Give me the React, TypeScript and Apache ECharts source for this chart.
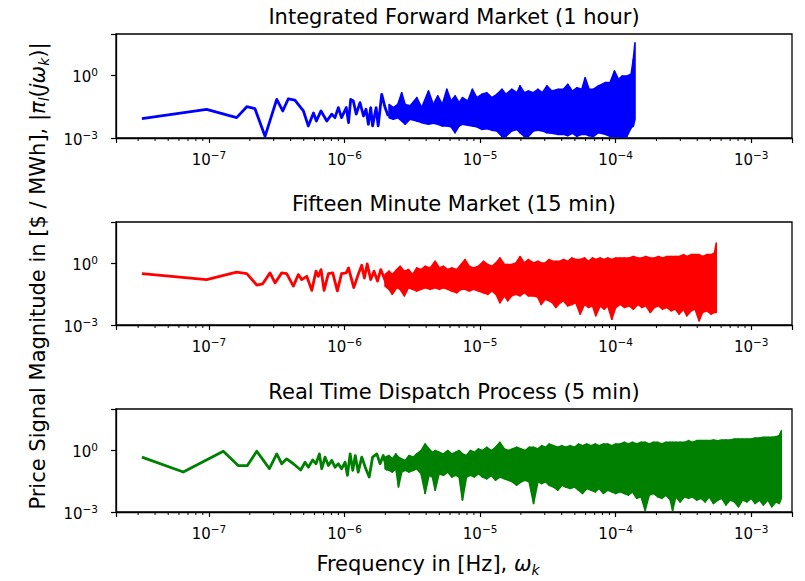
import React, { useEffect, useRef } from "react";
import * as echarts from "echarts";

const X_MIN = 2.06e-8;
const X_MAX = 2.0e-3;
const Y_MIN = 1e-3;
const Y_MAX = 1e2;

const titles = [
  "Integrated Forward Market (1 hour)",
  "Fifteen Minute Market (15 min)",
  "Real Time Dispatch Process (5 min)",
];
const seriesColors = ["#0000ff", "#ff0000", "#008000"];
const xAxisTitle = "Frequency in [Hz], {it|ω}{sub|k}";
const yAxisTitle = "Price Signal Magnitude in [$ / MWh], |{it|π}{sub|l}({it|jω}{sub|k})|";

// [frequency Hz, magnitude] -- low-frequency part of each spectrum
const blueLine: number[][] = [
  [3.2e-8, 0.0085], [9.6e-8, 0.024], [1.6e-7, 0.0095], [1.9e-7, 0.032], [2.18e-7, 0.026],
  [2.59e-7, 0.0012], [3.16e-7, 0.072], [3.5e-7, 0.02], [3.85e-7, 0.077], [4.3e-7, 0.067],
  [4.97e-7, 0.02], [5.4e-7, 0.0038], [5.9e-7, 0.016], [6.2e-7, 0.0066], [6.7e-7, 0.02],
  [7.4e-7, 0.0066], [8.05e-7, 0.014], [8.5e-7, 0.0095], [9.0e-7, 0.029], [9.5e-7, 0.0095],
  [1.03e-6, 0.029], [1.07e-6, 0.0055], [1.11e-6, 0.072], [1.16e-6, 0.06], [1.22e-6, 0.014],
  [1.3e-6, 0.05], [1.38e-6, 0.0114], [1.44e-6, 0.024], [1.5e-6, 0.0046], [1.56e-6, 0.029],
  [1.61e-6, 0.0038], [1.71e-6, 0.029], [1.77e-6, 0.0038], [1.88e-6, 0.126], [1.99e-6, 0.029],
  [2.1e-6, 0.0114],
];
// [frequency Hz, upper magnitude, lower magnitude] -- dense high-frequency part
const blueBand: number[][] = [
  [2.13e-6, 0.041, 0.0095], [2.29e-6, 0.029, 0.008], [2.47e-6, 0.041, 0.0095], [2.64e-6, 0.15, 0.0066],
  [2.8e-6, 0.041, 0.0046], [3.04e-6, 0.035, 0.008], [3.41e-6, 0.087, 0.0066], [3.71e-6, 0.029, 0.0055],
  [4.16e-6, 0.18, 0.0046], [4.52e-6, 0.041, 0.0051], [4.87e-6, 0.105, 0.0046], [5.27e-6, 0.041, 0.0038],
  [5.68e-6, 0.22, 0.0038], [6.11e-6, 0.06, 0.0035], [6.54e-6, 0.105, 0.0018], [7.0e-6, 0.05, 0.0038],
  [7.41e-6, 0.087, 0.0046], [8.11e-6, 0.06, 0.0041], [8.77e-6, 0.22, 0.0038], [9.45e-6, 0.087, 0.0035],
  [1.03e-5, 0.126, 0.0026], [1.12e-5, 0.15, 0.0028], [1.22e-5, 0.087, 0.0024], [1.33e-5, 0.126, 0.0022],
  [1.45e-5, 0.22, 0.0012], [1.55e-5, 0.126, 0.0012], [1.71e-5, 0.22, 0.0022], [1.87e-5, 0.15, 0.0026],
  [1.97e-5, 0.32, 0.0018], [2.12e-5, 0.15, 0.0012], [2.27e-5, 0.18, 0.0012], [2.47e-5, 0.15, 0.0022],
  [2.67e-5, 0.22, 0.0024], [2.88e-5, 0.15, 0.0022], [3.11e-5, 0.32, 0.0018], [3.38e-5, 0.18, 0.0017],
  [3.78e-5, 0.22, 0.0015], [4.12e-5, 0.22, 0.0015], [4.44e-5, 0.38, 0.0013], [4.8e-5, 0.18, 0.0017],
  [5.17e-5, 0.26, 0.0012], [5.63e-5, 0.22, 0.0015], [5.96e-5, 0.79, 0.0015], [6.37e-5, 0.22, 0.0013],
  [6.86e-5, 0.22, 0.0012], [7.46e-5, 0.32, 0.0018], [8.37e-5, 0.46, 0.0015], [9.1e-5, 0.46, 0.0012],
  [9.8e-5, 1.66, 0.0012], [1.05e-4, 0.66, 0.0012], [1.12e-4, 0.96, 0.0011], [1.21e-4, 0.96, 0.0012],
  [1.3e-4, 1.16, 0.0031], [1.35e-4, 6.0, 0.0038], [1.389e-4, 38, 0.008],
];

const redLine: number[][] = [
  [3.2e-8, 0.31], [9.6e-8, 0.16], [1.6e-7, 0.37], [1.9e-7, 0.31], [2.25e-7, 0.087],
  [2.49e-7, 0.1], [2.82e-7, 0.34], [3.07e-7, 0.11], [3.44e-7, 0.34], [3.74e-7, 0.31],
  [4.19e-7, 0.077], [4.56e-7, 0.28], [4.83e-7, 0.16], [5.26e-7, 0.23], [5.73e-7, 0.048],
  [6.16e-7, 0.41], [6.41e-7, 0.23], [6.71e-7, 0.49], [7.06e-7, 0.048], [7.6e-7, 0.31],
  [8.18e-7, 0.34], [8.85e-7, 0.045], [9.5e-7, 0.31], [1.03e-6, 0.34], [1.07e-6, 0.59],
  [1.12e-6, 0.19], [1.17e-6, 0.065], [1.26e-6, 0.28], [1.34e-6, 0.79], [1.4e-6, 0.19],
  [1.47e-6, 0.92], [1.56e-6, 0.16], [1.65e-6, 0.41], [1.75e-6, 0.135], [1.85e-6, 0.49],
  [1.96e-6, 0.19], [2.07e-6, 0.077],
];
const redBand: number[][] = [
  [1.99e-6, 0.28, 0.077], [2.13e-6, 0.41, 0.054], [2.25e-6, 0.28, 0.031], [2.43e-6, 0.49, 0.065],
  [2.57e-6, 0.71, 0.054], [2.76e-6, 0.41, 0.026], [2.96e-6, 0.49, 0.065], [3.17e-6, 0.28, 0.054],
  [3.41e-6, 0.59, 0.045], [3.67e-6, 0.49, 0.054], [3.93e-6, 0.71, 0.065], [4.28e-6, 0.59, 0.054],
  [4.66e-6, 1.24, 0.065], [5.01e-6, 0.59, 0.054], [5.36e-6, 0.71, 0.065], [5.77e-6, 0.49, 0.054],
  [6.18e-6, 0.59, 0.045], [6.73e-6, 0.49, 0.037], [7.24e-6, 0.86, 0.054], [7.75e-6, 1.5, 0.054],
  [8.3e-6, 0.71, 0.045], [8.93e-6, 0.59, 0.054], [9.72e-6, 0.71, 0.045], [1.06e-5, 1.24, 0.037],
  [1.14e-5, 0.86, 0.031], [1.22e-5, 0.71, 0.045], [1.31e-5, 1.03, 0.031], [1.4e-5, 1.8, 0.012],
  [1.51e-5, 0.86, 0.026], [1.6e-5, 0.86, 0.015], [1.71e-5, 0.86, 0.026], [1.84e-5, 1.03, 0.031],
  [1.97e-5, 2.1, 0.026], [2.12e-5, 1.03, 0.037], [2.27e-5, 1.5, 0.026], [2.48e-5, 1.03, 0.026],
  [2.67e-5, 1.24, 0.022], [2.82e-5, 1.03, 0.01], [3.02e-5, 1.03, 0.018], [3.23e-5, 1.5, 0.015],
  [3.42e-5, 1.24, 0.012], [3.62e-5, 1.24, 0.0071], [3.89e-5, 1.24, 0.012], [4.12e-5, 1.5, 0.015],
  [4.44e-5, 1.24, 0.0085], [4.75e-5, 1.8, 0.01], [5.08e-5, 1.5, 0.012], [5.47e-5, 1.5, 0.0034],
  [5.89e-5, 1.8, 0.01], [6.3e-5, 1.24, 0.0071], [6.75e-5, 1.8, 0.0085], [7.14e-5, 1.5, 0.0028],
  [7.68e-5, 1.8, 0.0085], [8.23e-5, 1.5, 0.0059], [8.75e-5, 1.8, 0.0085], [9.37e-5, 1.5, 0.0019],
  [1.0e-4, 1.8, 0.0071], [1.08e-4, 1.8, 0.01], [1.16e-4, 1.8, 0.0071], [1.26e-4, 1.8, 0.0085],
  [1.35e-4, 2.1, 0.0059], [1.46e-4, 1.8, 0.01], [1.56e-4, 1.8, 0.0071], [1.67e-4, 2.1, 0.0085],
  [1.8e-4, 1.8, 0.0041], [1.93e-4, 1.8, 0.0071], [2.07e-4, 2.1, 0.0085], [2.22e-4, 1.8, 0.0059],
  [2.39e-4, 2.1, 0.0071], [2.57e-4, 2.1, 0.0049], [2.75e-4, 2.1, 0.0059], [2.94e-4, 2.1, 0.0034],
  [3.17e-4, 2.6, 0.0059], [3.35e-4, 2.1, 0.0028], [3.61e-4, 2.6, 0.0049], [3.86e-4, 2.6, 0.0059],
  [4.13e-4, 2.6, 0.0016], [4.37e-4, 2.1, 0.0041], [4.71e-4, 2.6, 0.0049], [5.07e-4, 2.6, 0.0034],
  [5.36e-4, 3.1, 0.0041], [5.52e-4, 9.5, 0.0041],
];

const greenLine: number[][] = [
  [3.2e-8, 0.46], [6.46e-8, 0.087], [1.275e-7, 0.89], [1.64e-7, 0.18], [1.92e-7, 0.18],
  [2.25e-7, 0.89], [2.52e-7, 0.32], [2.79e-7, 0.126], [3.16e-7, 0.66], [3.44e-7, 0.22],
  [3.74e-7, 0.38], [4.19e-7, 0.22], [4.75e-7, 0.11], [5.11e-7, 0.26], [5.41e-7, 0.15],
  [5.82e-7, 0.34], [6.16e-7, 0.22], [6.52e-7, 0.66], [6.79e-7, 0.126], [7.18e-7, 0.46],
  [7.6e-7, 0.18], [8.05e-7, 0.32], [8.5e-7, 0.15], [9.0e-7, 0.22], [9.5e-7, 0.126],
  [1.01e-6, 0.26], [1.05e-6, 0.06], [1.1e-6, 0.66], [1.15e-6, 0.105], [1.2e-6, 0.55],
  [1.26e-6, 0.087], [1.34e-6, 0.46], [1.42e-6, 0.15], [1.52e-6, 0.05], [1.61e-6, 0.46],
  [1.73e-6, 0.66], [1.83e-6, 0.22], [1.93e-6, 0.55], [2.07e-6, 0.105],
];
const greenBand: number[][] = [
  [1.99e-6, 0.46, 0.126], [2.13e-6, 0.55, 0.105], [2.25e-6, 0.38, 0.087], [2.39e-6, 0.66, 0.126],
  [2.5e-6, 0.46, 0.0165], [2.64e-6, 0.38, 0.087], [2.8e-6, 0.32, 0.105], [2.99e-6, 0.55, 0.087],
  [3.22e-6, 0.46, 0.105], [3.41e-6, 0.66, 0.126], [3.67e-6, 0.96, 0.072], [3.93e-6, 2.0, 0.008],
  [4.2e-6, 1.15, 0.06], [4.45e-6, 0.79, 0.05], [4.66e-6, 0.96, 0.0114], [4.98e-6, 0.79, 0.072],
  [5.36e-6, 0.66, 0.06], [5.77e-6, 0.96, 0.087], [6.18e-6, 0.66, 0.05], [6.61e-6, 0.79, 0.06],
  [7.0e-6, 0.96, 0.05], [7.41e-6, 0.66, 0.0038], [7.93e-6, 0.55, 0.05], [8.49e-6, 0.96, 0.06],
  [9.08e-6, 0.79, 0.05], [9.72e-6, 1.15, 0.072], [1.04e-5, 0.96, 0.05], [1.12e-5, 1.38, 0.041],
  [1.21e-5, 0.96, 0.06], [1.3e-5, 1.38, 0.035], [1.4e-5, 2.4, 0.05], [1.51e-5, 1.15, 0.041],
  [1.62e-5, 0.96, 0.035], [1.73e-5, 1.15, 0.029], [1.86e-5, 1.38, 0.02], [2.01e-5, 1.15, 0.029],
  [2.15e-5, 0.96, 0.035], [2.3e-5, 1.38, 0.029], [2.48e-5, 1.38, 0.0026], [2.67e-5, 1.15, 0.029],
  [2.85e-5, 1.66, 0.024], [3.05e-5, 1.38, 0.029], [3.23e-5, 2.0, 0.02], [3.48e-5, 1.66, 0.0165],
  [3.74e-5, 1.38, 0.0114], [4.01e-5, 1.66, 0.02], [4.29e-5, 1.38, 0.0165], [4.62e-5, 1.66, 0.014],
  [4.97e-5, 1.38, 0.0165], [5.32e-5, 2.0, 0.0114], [5.69e-5, 1.66, 0.008], [6.13e-5, 2.0, 0.014],
  [6.6e-5, 1.66, 0.0114], [7.06e-5, 2.0, 0.0095], [7.55e-5, 1.66, 0.014], [8.13e-5, 2.0, 0.008],
  [8.75e-5, 2.0, 0.0114], [9.37e-5, 1.66, 0.0095], [1.0e-4, 2.0, 0.008], [1.08e-4, 2.0, 0.0095],
  [1.16e-4, 2.4, 0.008], [1.24e-4, 2.0, 0.0066], [1.33e-4, 2.4, 0.0095], [1.43e-4, 2.0, 0.0046],
  [1.54e-4, 2.4, 0.0055], [1.65e-4, 2.4, 0.0012], [1.77e-4, 2.0, 0.0066], [1.9e-4, 2.4, 0.008],
  [2.05e-4, 2.4, 0.0055], [2.19e-4, 2.0, 0.0046], [2.35e-4, 2.4, 0.0066], [2.53e-4, 2.4, 0.0038],
  [2.63e-4, 2.4, 0.0012], [2.78e-4, 2.4, 0.0055], [2.99e-4, 2.4, 0.0031], [3.22e-4, 2.4, 0.0055],
  [3.45e-4, 2.9, 0.0046], [3.69e-4, 2.4, 0.0055], [3.97e-4, 2.9, 0.0038], [4.28e-4, 2.9, 0.0046],
  [4.58e-4, 2.9, 0.0031], [4.9e-4, 2.9, 0.0055], [5.27e-4, 3.1, 0.0026], [5.68e-4, 2.9, 0.0038],
  [6.07e-4, 3.1, 0.0046], [6.5e-4, 3.1, 0.0022], [7.0e-4, 3.1, 0.0038], [7.53e-4, 3.5, 0.0031],
  [8.06e-4, 3.5, 0.0018], [8.63e-4, 3.5, 0.0038], [9.29e-4, 3.5, 0.0031], [1.0e-3, 3.5, 0.0046],
  [1.07e-3, 3.9, 0.0026], [1.15e-3, 3.9, 0.0038], [1.23e-3, 4.2, 0.0022], [1.33e-3, 4.2, 0.0038],
  [1.42e-3, 4.2, 0.0018], [1.52e-3, 4.5, 0.0031], [1.61e-3, 5.0, 0.0026], [1.667e-3, 8.7, 0.0046],
];

const lines = [blueLine, redLine, greenLine];
const bands = [blueBand, redBand, greenBand];

const FONT = "DejaVu Sans";
const gridBoxes = [
  { left: 116, top: 34, width: 676, height: 104 },
  { left: 116, top: 222, width: 676, height: 103 },
  { left: 116, top: 409, width: 676, height: 103 },
];
const titleY = [17, 204, 392];

function powLabel(v: number): string {
  const e = Math.log10(v);
  const r = Math.round(e);
  if (Math.abs(e - r) > 1e-6) return "";
  return `{b|10}{s|${r < 0 ? "\u2212" : ""}${Math.abs(r)}}`;
}

const tickRich = {
  b: { fontFamily: FONT, fontSize: 15, fontWeight: "normal", color: "#000", lineHeight: 18, verticalAlign: "bottom", width: undefined },
  s: { fontFamily: FONT, fontSize: 10.5, color: "#000", lineHeight: 7, verticalAlign: "top" },
};

export default function App() {
  const ref = useRef<HTMLDivElement>(null);
  useEffect(() => {
    if (!ref.current) return;
    const chart = echarts.init(ref.current, null, { renderer: "svg" });

    const minorTicks: number[] = [];
    for (let e = -8; e <= -3; e++) {
      for (let m = 2; m <= 9; m++) {
        const v = m * Math.pow(10, e);
        if (v > X_MIN && v < X_MAX) minorTicks.push(v);
      }
    }

    const grid = gridBoxes.map((g) => ({
      ...g,
      show: true,
      borderColor: "#000",
      borderWidth: 1.3,
      backgroundColor: "transparent",
    }));

    const labelBase = {
      fontSize: 15,
      fontFamily: FONT,
      color: "#000",
      rich: tickRich,
      richInheritPlainLabel: false,
    };

    const xAxis = gridBoxes.map((_, i) => ({
      type: "log",
      logBase: 10,
      gridIndex: i,
      min: X_MIN,
      max: X_MAX,
      axisLine: { show: true, lineStyle: { color: "#000", width: 1.3 } },
      axisTick: { show: true, length: 5, lineStyle: { color: "#000", width: 1.2 } },
      axisLabel: { ...labelBase, margin: 11, formatter: powLabel },
      splitLine: { show: false },
      minorTick: { show: false },
    }));

    const yAxis = gridBoxes.map((_, i) => ({
      type: "log",
      logBase: 10,
      gridIndex: i,
      min: Y_MIN,
      max: Y_MAX,
      interval: 3,
      axisLine: { show: true, lineStyle: { color: "#000", width: 1.3 } },
      axisTick: { show: true, length: 5, lineStyle: { color: "#000", width: 1.2 } },
      axisLabel: {
        ...labelBase,
        margin: 18,
        formatter: (v: number) => (v > Y_MAX * 0.5 ? "" : powLabel(v)),
      },
      splitLine: { show: false },
    }));

    const series: any[] = [];
    gridBoxes.forEach((_, i) => {
      const color = seriesColors[i];
      const band = bands[i];
      series.push({
        type: "line",
        xAxisIndex: i,
        yAxisIndex: i,
        data: lines[i],
        showSymbol: false,
        symbol: "none",
        lineStyle: { color, width: 2.8, join: "round" },
        itemStyle: { color },
        clip: true,
        silent: true,
      });
      series.push({
        type: "custom",
        xAxisIndex: i,
        yAxisIndex: i,
        data: band,
        encode: { x: 0, y: [1, 2] },
        clip: true,
        silent: true,
        renderItem: (params: any, api: any) => {
          const k = params.dataIndex;
          if (k >= band.length - 1) return null;
          const a = band[k];
          const b = band[k + 1];
          const p1 = api.coord([a[0], a[1]]);
          const p2 = api.coord([b[0], b[1]]);
          const p3 = api.coord([b[0], b[2]]);
          const p4 = api.coord([a[0], a[2]]);
          return {
            type: "polygon",
            shape: { points: [p1, p2, p3, p4] },
            style: { fill: color, stroke: color, lineWidth: 1.6, lineJoin: "round" },
          };
        },
      });
      series.push({
        type: "custom",
        xAxisIndex: i,
        yAxisIndex: i,
        data: minorTicks.map((v) => [v, Y_MIN]),
        clip: false,
        silent: true,
        renderItem: (_p: any, api: any) => {
          const p = api.coord([api.value(0), api.value(1)]);
          return {
            type: "line",
            shape: { x1: p[0], y1: p[1], x2: p[0], y2: p[1] + 3 },
            style: { stroke: "#000", lineWidth: 1 },
          };
        },
      });
    });

    const graphic: any[] = titles.map((t, i) => ({
      type: "text",
      x: 454,
      y: titleY[i],
      style: {
        text: t,
        fontFamily: FONT,
        fontSize: 21,
        fill: "#000",
        align: "center",
        verticalAlign: "middle",
        textAlign: "center",
        textVerticalAlign: "middle",
      },
    }));
    const labelRich = {
      it: { fontFamily: FONT, fontSize: 21, fontStyle: "italic", fill: "#000", lineHeight: 26, verticalAlign: "middle" },
      sub: { fontFamily: FONT, fontSize: 14, fontStyle: "italic", fill: "#000", lineHeight: 12, verticalAlign: "bottom" },
    };
    graphic.push({
      type: "text",
      x: 428,
      y: 564,
      style: {
        text: xAxisTitle,
        fontFamily: FONT,
        fontSize: 21,
        fill: "#000",
        lineHeight: 26,
        align: "center",
        verticalAlign: "middle",
        textAlign: "center",
        textVerticalAlign: "middle",
        rich: labelRich,
      },
    });
    graphic.push({
      type: "text",
      x: 38,
      y: 276,
      rotation: Math.PI / 2,
      style: {
        text: yAxisTitle,
        fontFamily: FONT,
        fontSize: 21,
        fill: "#000",
        lineHeight: 26,
        align: "center",
        verticalAlign: "middle",
        textAlign: "center",
        textVerticalAlign: "middle",
        rich: labelRich,
      },
    });

    chart.setOption({
      animation: false,
      backgroundColor: "#fff",
      textStyle: { fontFamily: FONT },
      grid,
      xAxis,
      yAxis,
      series,
      graphic,
    });
    return () => chart.dispose();
  }, []);
  return (
    <div
      ref={ref}
      style={{ position: "fixed", left: 0, top: 0, width: 805, height: 581 }}
    />
  );
}
